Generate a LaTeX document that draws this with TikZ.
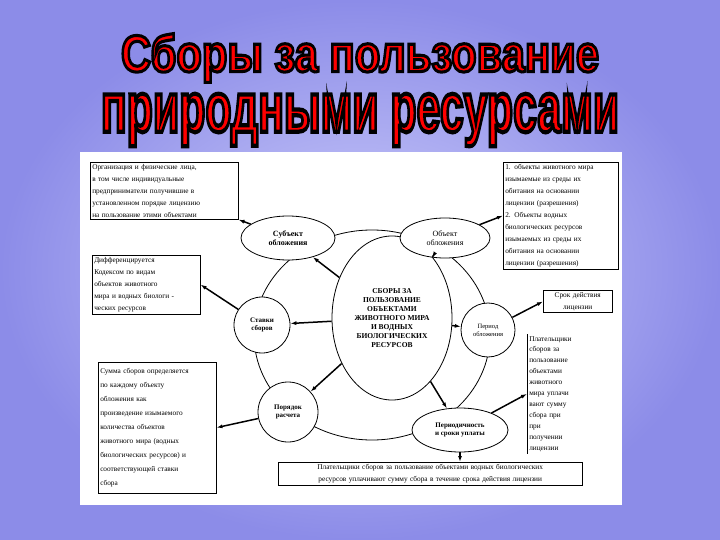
\documentclass[tikz,border=0pt]{standalone}
\usepackage{fontspec}
\setmainfont{Liberation Serif}
\newfontfamily\titlefont{Liberation Sans}
\usetikzlibrary{shapes.geometric,arrows.meta}
\begin{document}
\begin{tikzpicture}[x=1pt,y=-1pt,
  ov/.style={draw,ellipse,line width=0.8pt,inner sep=0pt,font=\bfseries\fontsize{7}{8.5}\selectfont,align=center},
  cc/.style={draw,circle,line width=0.8pt,inner sep=0pt,font=\bfseries\fontsize{7}{8.5}\selectfont,align=center},
  bx/.style={draw,line width=0.5pt,inner sep=2pt,font=\fontsize{7.3}{12}\selectfont,align=left,anchor=north west},
  ar/.style={-{Latex[length=6pt,width=4pt]},line width=1.5pt},
  ttl/.style={font=\titlefont\bfseries,text=red,inner sep=0pt}]
\useasboundingbox (0,0) rectangle (720,540);
\shade[inner color={rgb,255:red,205;green,205;blue,250},outer color={rgb,255:red,140;green,140;blue,232}] (0,0) rectangle (720,540);
\fill[white] (80,152) rectangle (622,505);
% title with outline via text render mode
\node[ttl] (t1) at (360,58) {\special{pdf:code 2 Tr 0.6 w 0 0 0 RG}\resizebox{478pt}{38pt}{Сборы за пользование}\special{pdf:code 0 Tr}};
\node[ttl] (t2) at (360,120) {\special{pdf:code 2 Tr 0.6 w 0 0 0 RG}\resizebox{518pt}{38pt}{природными ресурсами}\special{pdf:code 0 Tr}};
% ring
\draw[line width=0.8pt] (372,335) ellipse [x radius=118,y radius=105];
% nodes
\node[ov,minimum width=120pt,minimum height=164pt,font=\bfseries\fontsize{7.5}{9}\selectfont] (c) at (392,318) {СБОРЫ ЗА\\ПОЛЬЗОВАНИЕ\\ОБЪЕКТАМИ\\ЖИВОТНОГО МИРА\\И ВОДНЫХ\\БИОЛОГИЧЕСКИХ\\РЕСУРСОВ};
\node[ov,fill=white,minimum width=94pt,minimum height=44pt,font=\bfseries\fontsize{8}{9.5}\selectfont] (s) at (288,238) {Субъект\\обложения};
\node[ov,fill=white,minimum width=90pt,minimum height=40pt,font=\fontsize{8}{9.5}\selectfont] (o) at (445,238) {Объект\\обложения};
\node[cc,fill=white,minimum size=56pt] (st) at (262,325) {Ставки\\сборов};
\node[cc,fill=white,minimum size=54pt,font=\fontsize{6.5}{8}\selectfont] (p) at (488,330) {Период\\обложения};
\node[cc,fill=white,minimum size=60pt] (pr) at (288,412) {Порядок\\расчета};
\node[ov,fill=white,minimum width=96pt,minimum height=44pt] (pe) at (460,430) {Периодичность\\и сроки уплаты};
% boxes
\node[bx,text width=144pt] (b1) at (90,162) {Организация и физические лица,\\в том числе индивидуальные\\предприниматели получившие в\\установленном порядке лицензию\\на пользование этими объектами};
\node[bx,text width=104pt] (b2) at (92,255) {Дифференцируется\\Кодексом по видам\\объектов животного\\мира и водных биологи -\\ческих ресурсов};
\node[bx,text width=114pt,inner ysep=6pt,font=\fontsize{7.3}{14}\selectfont] (b3) at (98,362) {Сумма сборов определяется\\по каждому объекту\\обложения как\\произведение изымаемого\\количества объектов\\животного мира (водных\\биологических ресурсов) и\\соответствующей ставки\\сбора};
\node[bx,text width=111pt] (b4) at (503,162) {1. объекты животного мира\\изымаемые из среды их\\обитания на основании\\лицензии (разрешения)\\2. Объекты водных\\биологических ресурсов\\изымаемых из среды их\\обитания на основании\\лицензии (разрешения)};
\node[bx,text width=65pt,align=center] (b5) at (543,290) {Срок действия\\лицензии};
\node[bx,draw=none,text width=56pt,font=\fontsize{7.3}{10.9}\selectfont] (b6) at (527,334) {Плательщики\\сборов за\\пользование\\объектами\\животного\\мира уплачи\\вают сумму\\сбора при\\при\\получении\\лицензии};
\draw[line width=0.5pt] (b6.north west) -- (b6.south west);
\node[bx,text width=300pt,align=center] (b7) at (278,462) {Плательщики сборов за пользование объектами водных биологических\\ресурсов уплачивают сумму сбора в течение срока действия лицензии};
% arrows
\draw[ar] (c) -- (s);
\draw[ar] (c) -- (o);
\draw[ar] (c) -- (st);
\draw[ar] (c) -- (p);
\draw[ar] (c) -- (pr);
\draw[ar] (c) -- (pe);
\draw[ar] (s) -- (b1.south east);
\draw[ar] (o) -- (b4.west);
\draw[ar] (st) -- (b2.east);
\draw[ar] (pr) -- (b3.east);
\draw[ar] (p) -- (b5.west);
\draw[ar] (pe) -- (b6.west);
\draw[ar] (pe) -- (b7.north -| pe.south);
\end{tikzpicture}
\end{document}
